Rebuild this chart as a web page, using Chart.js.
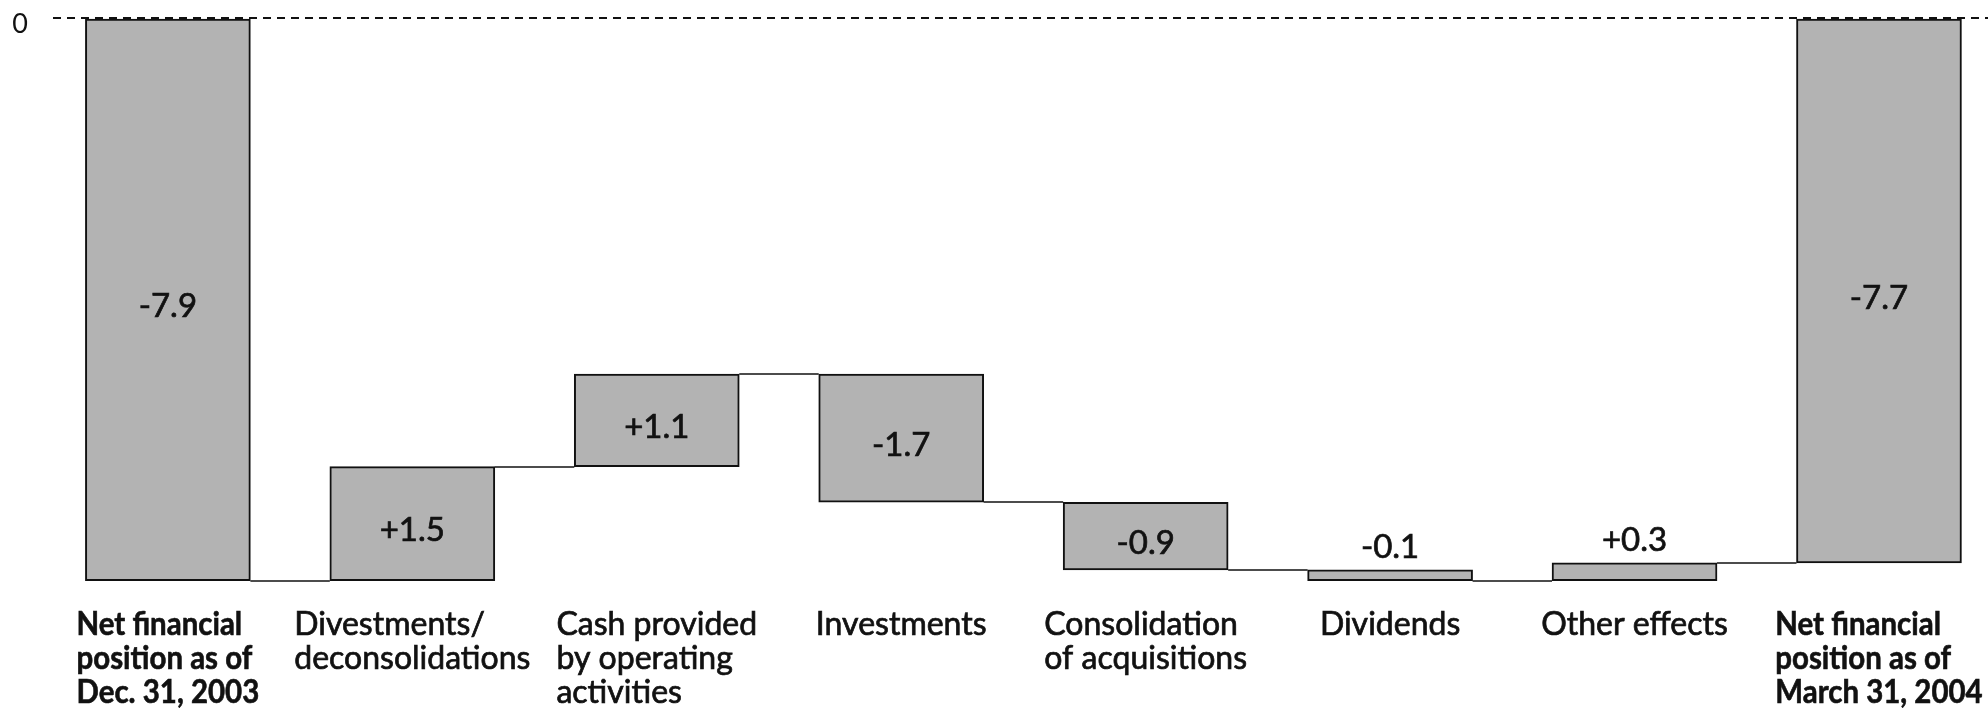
<!DOCTYPE html>
<html>
<head>
<meta charset="utf-8">
<script src="https://cdn.jsdelivr.net/npm/chart.js@4.4.1/dist/chart.umd.min.js"></script>
<style>
  html, body { margin: 0; padding: 0; background: #fff; overflow: hidden; }
  #wrap { width: 1988px; height: 710px; }
</style>
</head>
<body>
<div id="wrap"><canvas id="chart"></canvas></div>
<script>
// Categories, one entry per bar (lines of the label)
const categories = [
  ["Net financial", "position as of", "Dec. 31, 2003"],
  ["Divestments/", "deconsolidations"],
  ["Cash provided", "by operating", "activities"],
  ["Investments"],
  ["Consolidation", "of acquisitions"],
  ["Dividends"],
  ["Other effects"],
  ["Net financial", "position as of", "March 31, 2004"]
];
// totals get bold labels
const isTotal = [true, false, false, false, false, false, false, true];

// value written on each bar
const changes = [-7.9, 1.5, 1.1, -1.7, -0.9, -0.1, 0.3, -7.7];

// start / end of each bar as drawn in the picture
const barStart = [0, -7.9, -6.3, -5.0, -6.8, -7.75, -7.9, 0];
const barEnd = [-7.9, -6.3, -5.0, -6.8, -7.75, -7.9, -7.65, -7.65];

// y tick labels
const yTicks = [0];

const FONT = "Lato";
const BOLD_SQUEEZE = 0.92; // bold labels are a condensed face in the original

// draws text a little heavier than the plain face
const heavyText = (ctx, txt, x, y, squeeze = 1) => {
  ctx.save();
  ctx.translate(x, y);
  ctx.scale(squeeze, 1);
  ctx.strokeText(txt, 0, 0);
  ctx.fillText(txt, 0, 0);
  ctx.restore();
};

// connectors, value labels and category labels
const waterfallExtras = {
  id: "waterfallExtras",
  afterDatasetsDraw(chart) {
    const ctx = chart.ctx;
    const meta = chart.getDatasetMeta(0);
    const yScale = chart.scales.y;
    const xScale = chart.scales.x;
    ctx.save();

    // lines joining the bars
    ctx.strokeStyle = "#111";
    ctx.lineWidth = 1.5;
    for (let i = 0; i < meta.data.length - 1; i++) {
      let a = meta.data[i];
      let b = meta.data[i + 1];
      let py = Math.round(yScale.getPixelForValue(barEnd[i]));
      ctx.beginPath();
      ctx.moveTo(a.x + a.width / 2, py);
      ctx.lineTo(b.x - b.width / 2, py);
      ctx.stroke();
    }

    // numbers on the bars
    ctx.font = "33px " + FONT;
    ctx.fillStyle = "#111";
    ctx.lineWidth = 0.7;
    ctx.textAlign = "center";
    meta.data.forEach((bar, i) => {
      let top = Math.min(bar.y, bar.base);
      let bottom = Math.max(bar.y, bar.base);
      let txt = (changes[i] > 0 ? "+" : "") + changes[i].toFixed(1);
      if (bottom - top > 50) {
        ctx.textBaseline = "middle";
        heavyText(ctx, txt, bar.x, (top + bottom) / 2 + 7);
      } else {
        ctx.textBaseline = "alphabetic";
        heavyText(ctx, txt, bar.x, top - 12);
      }
    });

    // category labels: block centred under the bar, lines left aligned
    ctx.textAlign = "left";
    ctx.textBaseline = "alphabetic";
    categories.forEach((lines, i) => {
      let squeeze = isTotal[i] ? BOLD_SQUEEZE : 1;
      ctx.font = isTotal[i] ? "bold 32px " + FONT : "32px " + FONT;
      ctx.lineWidth = isTotal[i] ? 0.6 : 0.7;
      let w = Math.max(...lines.map(l => ctx.measureText(l).width)) * squeeze;
      let left = xScale.getPixelForValue(i) - w / 2;
      lines.forEach((l, k) => {
        heavyText(ctx, l, left, chart.chartArea.bottom + 33 + k * 34, squeeze);
      });
    });

    ctx.restore();
  }
};

const setup = () => {
  const ctx = document.getElementById("chart").getContext("2d");
  new Chart(ctx, {
    type: "bar",
    data: {
      datasets: [{
        data: categories.map((c, i) => ({ x: i, y: [barStart[i], barEnd[i]] })),
        backgroundColor: "#b3b3b3",
        borderColor: "#111",
        borderWidth: 2,
        borderSkipped: false,
        barThickness: 165
      }]
    },
    options: {
      animation: false,
      responsive: true,
      maintainAspectRatio: false,
      layout: { padding: { top: 18, left: 0, right: 0, bottom: 0 } },
      plugins: {
        legend: { display: false },
        tooltip: { enabled: false }
      },
      scales: {
        x: {
          type: "linear",
          offset: false,
          min: -0.47,
          max: 7.446,
          grid: { display: false, offset: false },
          border: { display: false },
          ticks: { display: false },
          afterFit: (scale) => {
            scale.height = 108;
            scale.paddingLeft = 0;
            scale.paddingRight = 0;
          }
        },
        y: {
          min: -8.2,
          max: 0,
          afterBuildTicks: (scale) => { scale.ticks = yTicks.map(v => ({ value: v })); },
          afterFit: (scale) => {
            scale.width = 53;
            scale.paddingTop = 0;
            scale.paddingBottom = 0;
          },
          grid: { color: "#111", lineWidth: 2, drawTicks: false },
          border: { display: false, dash: [8, 6] },
          ticks: {
            color: "#111",
            padding: 25,
            labelOffset: 6,
            font: { family: FONT, size: 27 }
          }
        }
      }
    },
    plugins: [waterfallExtras]
  });
};

window.addEventListener("load", setup);
</script>
</body>
</html>
